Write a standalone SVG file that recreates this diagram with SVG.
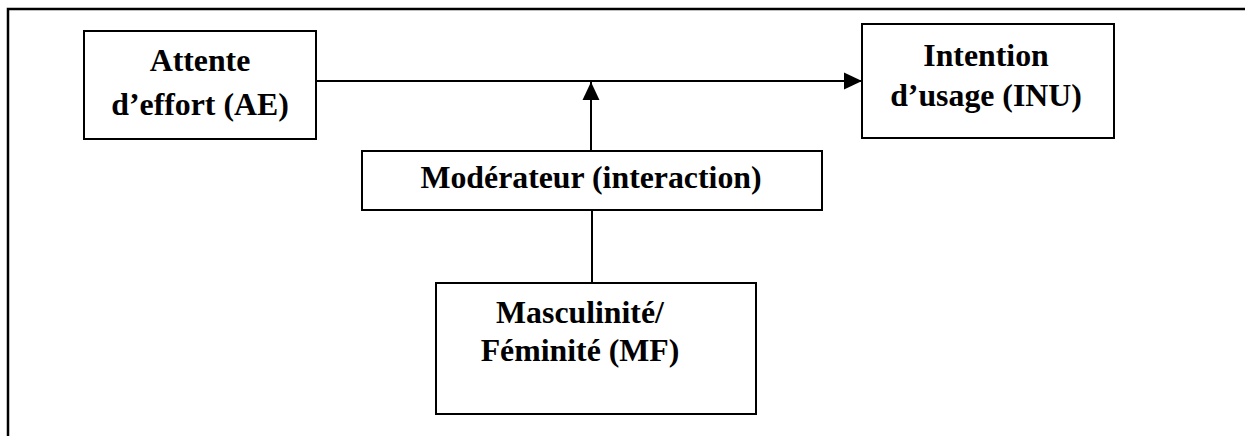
<svg xmlns="http://www.w3.org/2000/svg" width="1245" height="436" viewBox="0 0 1245 436">
<style>
.box{fill:#fff;stroke:#000;stroke-width:2}
.lbl{font-family:"Liberation Serif","Times New Roman",serif;font-weight:bold;font-size:31.8px;fill:#000;text-anchor:middle}
.conn{stroke:#000;stroke-width:2;fill:none}
</style>
<defs>
<marker id="arr" markerUnits="userSpaceOnUse" markerWidth="18" markerHeight="18" viewBox="0 0 17 16" refX="17" refY="8" orient="auto">
<path d="M0,0 L17,8 L0,16 Z" fill="#000"/>
</marker>
</defs>
<path d="M8,436 V9 H1245" fill="none" stroke="#000" stroke-width="2.5"/>
<g id="connectors">
<line class="conn" x1="316" y1="81" x2="862" y2="81" marker-end="url(#arr)"/>
<line class="conn" x1="591" y1="151" x2="591" y2="82" marker-end="url(#arr)"/>
<line class="conn" x1="592" y1="210" x2="592" y2="283"/>
</g>
<g id="node-ae">
<rect class="box" x="84" y="31" width="232" height="108"/>
<text class="lbl" x="200" y="71">Attente</text>
<text class="lbl" x="200" y="115">d’effort (AE)</text>
</g>
<g id="node-inu">
<rect class="box" x="862" y="24" width="252" height="114"/>
<text class="lbl" x="986" y="66">Intention</text>
<text class="lbl" x="986" y="106">d’usage (INU)</text>
</g>
<g id="node-mod">
<rect class="box" x="362" y="151" width="460" height="59"/>
<text class="lbl" x="591" y="188">Modérateur (interaction)</text>
</g>
<g id="node-mf">
<rect class="box" x="436" y="283" width="320" height="131"/>
<text class="lbl" x="580" y="323">Masculinité/</text>
<text class="lbl" x="580" y="361">Féminité (MF)</text>
</g>
</svg>
